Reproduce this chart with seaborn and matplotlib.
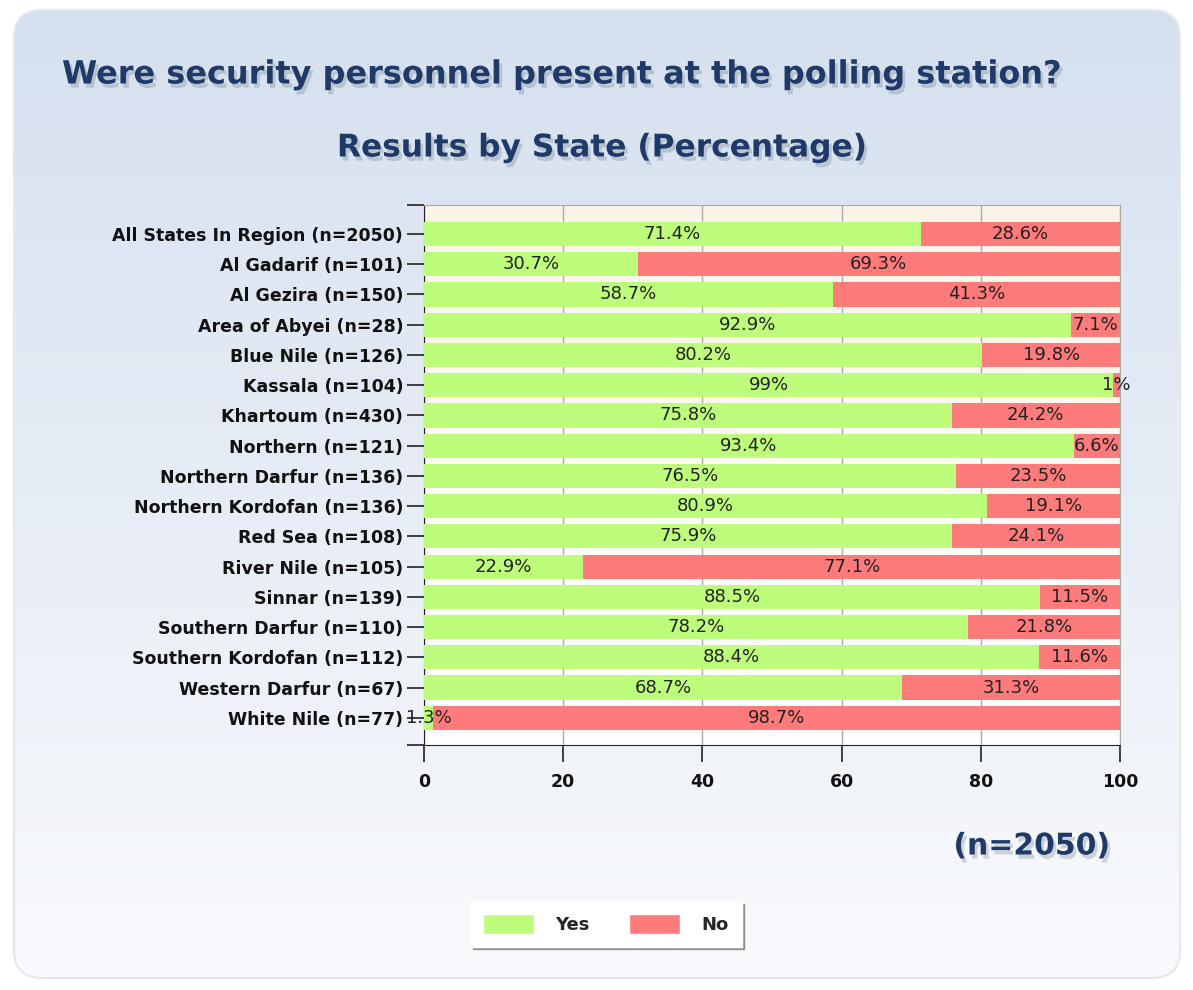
import numpy as np
import pandas as pd
import seaborn as sns
import matplotlib.pyplot as plt
import matplotlib.patheffects as pe
from matplotlib.patches import FancyBboxPatch, Patch

states = ["All States In Region (n=2050)", "Al Gadarif (n=101)", "Al Gezira (n=150)",
          "Area of Abyei (n=28)", "Blue Nile (n=126)", "Kassala (n=104)",
          "Khartoum (n=430)", "Northern (n=121)", "Northern Darfur (n=136)",
          "Northern Kordofan (n=136)", "Red Sea (n=108)", "River Nile (n=105)",
          "Sinnar (n=139)", "Southern Darfur (n=110)", "Southern Kordofan (n=112)",
          "Western Darfur (n=67)", "White Nile (n=77)"]
yes = [71.4, 30.7, 58.7, 92.9, 80.2, 99, 75.8, 93.4, 76.5, 80.9, 75.9, 22.9,
       88.5, 78.2, 88.4, 68.7, 1.3]
no = [28.6, 69.3, 41.3, 7.1, 19.8, 1, 24.2, 6.6, 23.5, 19.1, 24.1, 77.1,
      11.5, 21.8, 11.6, 31.3, 98.7]

df = pd.DataFrame({"state": states, "Yes": yes, "No": no})
df["total"] = df["Yes"] + df["No"]

green = "#BEFD7C"
red = "#FF7A7A"
navy = "#1F3A68"

sns.set_style("white")
plt.rcParams["font.family"] = ["DejaVu Sans"]

fig = plt.figure(figsize=(11.93, 9.9), dpi=100)

# background panel with gradient
bg = fig.add_axes([0, 0, 1, 1], zorder=-10)
bg.set_xlim(0, 1193)
bg.set_ylim(990, 0)
bg.axis("off")
panel = FancyBboxPatch((14, 10), 1166, 968, boxstyle="round,pad=0,rounding_size=28",
                       facecolor="none", edgecolor="#E4E8EE", lw=1.5)
bg.add_patch(panel)
grad = np.linspace(0, 1, 256).reshape(-1, 1)
top = np.array([0.835, 0.878, 0.937])
bot = np.array([0.975, 0.98, 0.99])
img = top + (bot - top) * grad[..., None]
im = bg.imshow(img, extent=[14, 1180, 978, 10], aspect="auto")
im.set_clip_path(panel)

ax = fig.add_axes([424 / 1193, 1 - 745 / 990, 696 / 1193, 540 / 990])

sns.barplot(data=df, x="total", y="state", color=red, width=0.8, saturation=1,
            linewidth=0, edgecolor="none", ax=ax, zorder=2)
sns.barplot(data=df, x="Yes", y="state", color=green, width=0.8, saturation=1,
            linewidth=0, edgecolor="none", ax=ax, zorder=3)

# plot area gradient
c0 = np.array([0.984, 0.957, 0.906])
pg = c0 + (np.array([1, 1, 1]) - c0) * grad[..., None]
ax.imshow(pg, extent=[0, 100, 16.9, -0.96], aspect="auto", zorder=0)

for i, (y_, n_) in enumerate(zip(yes, no)):
    ax.text(y_ / 2, i, f"{y_:g}%", ha="center", va="center", fontsize=13, color="#222222", zorder=5)
    ax.text(y_ + n_ / 2, i, f"{n_:g}%", ha="center", va="center", fontsize=13, color="#222222", zorder=5)

ax.set_xlim(0, 100)
ax.set_ylim(16.9, -0.96)
ax.set_xticks([0, 20, 40, 60, 80, 100])
ax.set_yticks([-0.96, 16.9], minor=True)
ax.xaxis.grid(True, color="#AAAAAA", lw=1, zorder=1)
ax.set_axisbelow(True)
ax.set_xlabel("")
ax.set_ylabel("")
for s in ["top", "right"]:
    ax.spines[s].set_color("#AAAAAA")
for s in ["left", "bottom"]:
    ax.spines[s].set_color("#222222")
ax.tick_params(axis="y", which="both", length=12, width=1.2, color="#222222", labelsize=12.5, pad=3, left=True)
ax.tick_params(axis="x", length=12, width=1.2, color="#222222", labelsize=12.5, pad=8, bottom=True)
for lab in ax.get_yticklabels() + ax.get_xticklabels():
    lab.set_color("#111111")
    lab.set_fontweight("bold")

shadow = [pe.SimplePatchShadow(offset=(2, -3), alpha=0.25, shadow_rgbFace="#556677"), pe.Normal()]
fig.text(62 / 1193, 1 - 75 / 990, "Were security personnel present at the polling station?",
         fontsize=23, fontweight="bold", color=navy, ha="left", va="center", path_effects=shadow)
fig.text(602 / 1193, 1 - 148 / 990, "Results by State (Percentage)",
         fontsize=22.5, fontweight="bold", color=navy, ha="center", va="center", path_effects=shadow)
fig.text(1110 / 1193, 1 - 846 / 990, "(n=2050)",
         fontsize=21.5, fontweight="bold", color=navy, ha="right", va="center", path_effects=shadow)

# legend
handles = [Patch(facecolor=green, label="Yes"), Patch(facecolor=red, label="No")]
leg = fig.legend(handles=handles, loc="center", bbox_to_anchor=(606 / 1193, 1 - 924 / 990),
                 ncol=2, frameon=True, fontsize=13, handlelength=2.8, handleheight=1.3,
                 handletextpad=1.2, columnspacing=2.2, borderpad=0.7, fancybox=False, shadow=True)
leg.get_frame().set_edgecolor("white")
leg.get_frame().set_facecolor("white")
for t in leg.get_texts():
    t.set_fontweight("bold")

fig.savefig("out.png", dpi=100)
